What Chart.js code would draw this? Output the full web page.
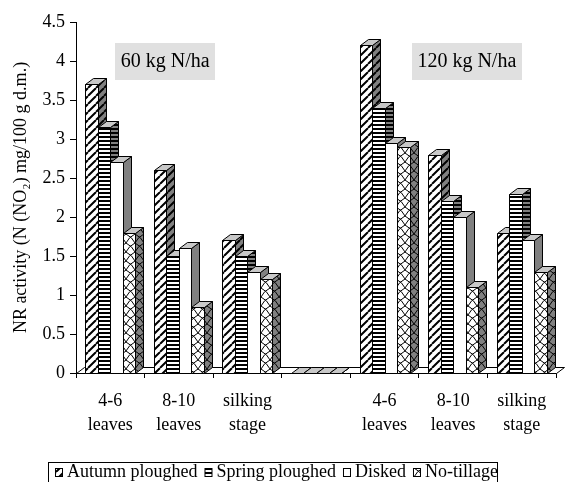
<!DOCTYPE html>
<html>
<head>
<meta charset="utf-8">
<script src="https://cdn.jsdelivr.net/npm/chart.js@4.4.1/dist/chart.umd.min.js"></script>
<style>
  html, body { margin: 0; padding: 0; background: #fff; }
  #wrap { width: 566px; height: 482px; position: relative; }
</style>
</head>
<body>
<div id="wrap"><canvas id="c" width="566" height="482"></canvas></div>
<script>
// Growth stages, two nitrogen doses separated by an empty slot
const categories = [['4-6', 'leaves'], ['8-10', 'leaves'], ['silking', 'stage'], '',
                    ['4-6', 'leaves'], ['8-10', 'leaves'], ['silking', 'stage']];
const seriesNames = ['Autumn ploughed', 'Spring ploughed', 'Disked', 'No-tillage'];
const autumnPloughed = [3.7, 2.6, 1.7, null, 4.2, 2.8, 1.8];
const springPloughed = [3.15, 1.5, 1.5, null, 3.4, 2.2, 2.3];
const disked         = [2.7, 1.6, 1.3, null, 2.95, 2.0, 1.7];
const noTillage      = [1.8, 0.85, 1.2, null, 2.9, 1.1, 1.3];
const yTicks = [0, 0.5, 1, 1.5, 2, 2.5, 3, 3.5, 4, 4.5];
const doseLabels = ['60 kg N/ha', '120 kg N/ha'];
const yTitle = 'NR activity (N (NO\u2082) mg/100 g d.m.)';

const FONT = "'Liberation Serif', 'Times New Roman', serif";
const DX = 8, DY = -6;   // oblique depth of the 3-D columns

const canvas = document.getElementById('c');
const ctx0 = canvas.getContext('2d');

function tile(bg, w, h, drawFn) {
  const c = document.createElement('canvas');
  c.width = w; c.height = h;
  const g = c.getContext('2d');
  g.fillStyle = bg; g.fillRect(0, 0, w, h);
  g.strokeStyle = '#000'; g.fillStyle = '#000';
  if (drawFn) drawFn(g, w, h);
  return ctx0.createPattern(c, 'repeat');
}
const diagonal = (g, w, h) => {
  g.lineWidth = 2; g.beginPath();
  for (let k = -1; k <= 1; k++) { g.moveTo(k * w, h); g.lineTo(k * w + w, 0); }
  g.stroke();
};
const horizontal = (g, w, h) => { g.fillRect(0, 0, w, 2); };
const lattice = (g, w, h) => {
  g.lineWidth = 1; g.beginPath();
  g.moveTo(0, 0); g.quadraticCurveTo(w * 0.7, h * 0.35, w, h);
  g.moveTo(w, 0); g.quadraticCurveTo(w * 0.3, h * 0.35, 0, h);
  g.stroke();
};

// front face, side face and top face fills for each series
const faces = [
  { front: tile('#fff', 8, 8, diagonal),   side: tile('#808080', 8, 8, diagonal),   top: '#c8c8c8' },
  { front: tile('#fff', 4, 4, horizontal), side: tile('#808080', 4, 4, horizontal), top: '#c8c8c8' },
  { front: '#fff',                          side: '#808080',                         top: '#c8c8c8' },
  { front: tile('#fff', 9, 9, lattice),    side: tile('#808080', 9, 9, lattice),    top: '#c8c8c8' }
];

function poly(ctx, pts, fill) {
  ctx.beginPath();
  ctx.moveTo(pts[0][0], pts[0][1]);
  for (let i = 1; i < pts.length; i++) ctx.lineTo(pts[i][0], pts[i][1]);
  ctx.closePath();
  ctx.fillStyle = fill; ctx.fill();
  ctx.strokeStyle = '#000'; ctx.lineWidth = 1; ctx.stroke();
}
const r = v => Math.round(v) + 0.5;

const columns3d = {
  id: 'columns3d',
  beforeDatasetsDraw(chart) {
    const ctx = chart.ctx, a = chart.chartArea;
    ctx.save();
    // floor slab
    const L = r(a.left), R = r(a.right), B = r(a.bottom);
    poly(ctx, [[L, B], [R, B], [R + DX, B + DY], [L + DX, B + DY]], '#fff');
    const metas = chart.data.datasets.map((d, i) => chart.getDatasetMeta(i));
    for (let j = 0; j < categories.length; j++) {
      metas.forEach((meta, i) => {
        const el = meta.data[j];
        if (!el) return;
        const p = el.getProps(['x', 'y', 'width', 'base'], true);
        if (!Number.isFinite(p.y)) return;
        const x0 = r(p.x - p.width / 2), x1 = r(p.x + p.width / 2);
        const yt = r(p.y), yb = r(p.base);
        const f = faces[i];
        poly(ctx, [[x0, yt], [x1, yt], [x1, yb], [x0, yb]], f.front);
        poly(ctx, [[x1, yt], [x1 + DX, yt + DY], [x1 + DX, yb + DY], [x1, yb]], f.side);
        poly(ctx, [[x0, yt], [x0 + DX, yt + DY], [x1 + DX, yt + DY], [x1, yt]], f.top);
      });
    }
    ctx.restore();
    return false;
  },
  afterDraw(chart) {
    const ctx = chart.ctx, xs = chart.scales.x, ys = chart.scales.y;
    ctx.save();

    // dose captions above each half
    const anchors = [[0.8, 4.0], [5.2, 4.0]];
    ctx.font = '20px ' + FONT;
    ctx.textAlign = 'center'; ctx.textBaseline = 'middle';
    doseLabels.forEach((t, k) => {
      const cx = xs.getPixelForValue(anchors[k][0]);
      const cy = ys.getPixelForValue(anchors[k][1]);
      const w = ctx.measureText(t).width + 11, h = 37;
      ctx.fillStyle = '#e0e0e0';
      ctx.fillRect(Math.round(cx - w / 2), Math.round(cy - h / 2), Math.round(w), h);
      ctx.fillStyle = '#000';
      ctx.fillText(t, cx, cy + 1);
    });

    // legend strip along the bottom
    ctx.strokeStyle = '#000'; ctx.lineWidth = 1;
    ctx.strokeRect(48.5, 462.5, 449, 30);
    ctx.font = '18px ' + FONT;
    ctx.textBaseline = 'alphabetic'; ctx.textAlign = 'left';
    let x = 55;
    seriesNames.forEach((name, i) => {
      ctx.fillStyle = faces[i].front;
      ctx.fillRect(x + 0.5, 468.5, 7, 8);
      ctx.strokeRect(x + 0.5, 468.5, 7, 8);
      ctx.fillStyle = '#000';
      ctx.fillText(name, x + 12, 477);
      x += 12 + ctx.measureText(name).width + 7;
    });
    ctx.restore();
  }
};

const seriesValues = [autumnPloughed, springPloughed, disked, noTillage];

new Chart(canvas, {
  type: 'bar',
  data: {
    labels: categories,
    datasets: seriesNames.map((name, i) => ({
      label: name,
      data: seriesValues[i],
      backgroundColor: '#fff',
      borderColor: '#000',
      borderWidth: 1,
      barPercentage: 1.0,
      categoryPercentage: 0.73
    }))
  },
  options: {
    responsive: false,
    animation: false,
    devicePixelRatio: 1,
    layout: { padding: { top: 22, right: 10, left: 0, bottom: 0 } },
    plugins: { legend: { display: false }, tooltip: { enabled: false } },
    scales: {
      x: {
        type: 'category',
        offset: true,
        grid: { offset: true, drawOnChartArea: false, drawTicks: true, tickLength: 5, color: '#000' },
        border: { display: true, color: '#000' },
        ticks: { color: '#000', font: { family: FONT, size: 18, lineHeight: 1.35 }, padding: 11, maxRotation: 0, autoSkip: false },
        afterFit: s => { s.height = 109; }
      },
      y: {
        min: 0, max: 4.5,
        grid: { drawOnChartArea: false, drawTicks: true, tickLength: 6, color: '#000' },
        border: { display: true, color: '#000' },
        ticks: { color: '#000', font: { family: FONT, size: 18 }, padding: 5, callback: v => String(v) },
        afterBuildTicks: s => { s.ticks = yTicks.map(v => ({ value: v })); },
        title: { display: true, text: yTitle, color: '#000', font: { family: FONT, size: 18 }, padding: { top: 10, bottom: 0 } },
        afterFit: s => { s.width = 76; }
      }
    }
  },
  plugins: [columns3d]
});
</script>
</body>
</html>
